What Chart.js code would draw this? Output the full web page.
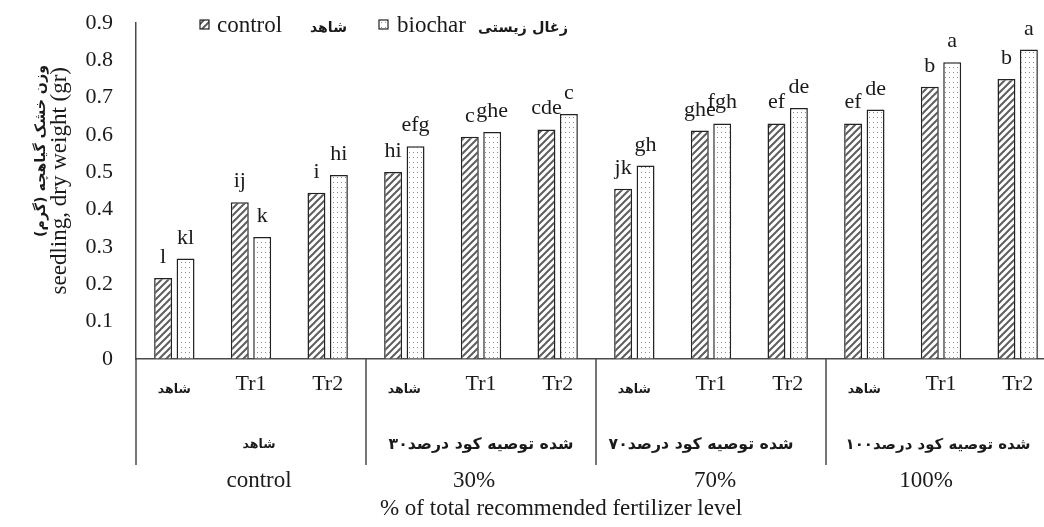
<!DOCTYPE html>
<html>
<head>
<meta charset="utf-8">
<script src="https://cdn.jsdelivr.net/npm/chart.js@4/dist/chart.umd.min.js"></script>
<style>
  html, body { margin: 0; padding: 0; background: #fff; overflow: hidden; }
  #wrap { width: 1060px; height: 527px; }
</style>
</head>
<body>
<div id="wrap"><canvas id="c" width="1060" height="527"></canvas></div>
<script>
// ---- data ----
const categories = ['شاهد', 'Tr1', 'Tr2', 'شاهد', 'Tr1', 'Tr2', 'شاهد', 'Tr1', 'Tr2', 'شاهد', 'Tr1', 'Tr2'];
const groupsFa = ['شاهد', '۳۰درصد کود توصیه شده', '۷۰درصد کود توصیه شده', '۱۰۰درصد کود توصیه شده'];
const groupsEn = ['control', '30%', '70%', '100%'];
const seriesEn = ['control', 'biochar'];
const seriesFa = ['شاهد', 'زغال زیستی'];
const controlValues = [0.217, 0.420, 0.445, 0.501, 0.595, 0.615, 0.456, 0.612, 0.631, 0.631, 0.729, 0.750];
const biocharValues = [0.269, 0.327, 0.493, 0.570, 0.608, 0.656, 0.518, 0.631, 0.672, 0.668, 0.795, 0.829];
const controlLetters = ['l', 'ij', 'i', 'hi', 'c', 'cde', 'jk', 'ghe', 'ef', 'ef', 'b', 'b'];
const biocharLetters = ['kl', 'k', 'hi', 'efg', 'ghe', 'c', 'gh', 'fgh', 'de', 'de', 'a', 'a'];
const yTicks = [0, 0.1, 0.2, 0.3, 0.4, 0.5, 0.6, 0.7, 0.8, 0.9];
const yTitleEn = 'seedling, dry weight (gr)';
const yTitleFa = 'وزن خشک گیاهچه (گرم)';
const xTitle = '% of total recommended fertilizer level';

// ---- styles ----
const SERIF = '"Liberation Serif", "Times New Roman", serif';
const FA = '"DejaVu Sans", sans-serif';
const TXT = '#1a1a1a';
const AXIS = '#4a4a4a';

function hatchPattern() {
  const c = document.createElement('canvas'); c.width = 7; c.height = 7;
  const g = c.getContext('2d');
  g.fillStyle = '#fff'; g.fillRect(0, 0, 7, 7);
  g.strokeStyle = '#5e5e5e'; g.lineWidth = 2; g.lineCap = 'square';
  g.beginPath();
  g.moveTo(-1, 8); g.lineTo(8, -1);
  g.moveTo(-2, 2); g.lineTo(2, -2);
  g.moveTo(5, 9); g.lineTo(9, 5);
  g.stroke();
  return g.createPattern(c, 'repeat');
}
function dotPattern() {
  const c = document.createElement('canvas'); c.width = 4; c.height = 5;
  const g = c.getContext('2d');
  g.fillStyle = '#fff'; g.fillRect(0, 0, 4, 5);
  g.fillStyle = '#8c8c8c'; g.fillRect(1, 2, 1, 1);
  return g.createPattern(c, 'repeat');
}
const HATCH = hatchPattern();
const DOTS = dotPattern();

function setFa(ctx, size) { ctx.font = 'bold ' + size.toFixed(2) + 'px ' + FA; }
function fitSize(ctx, text, target) {
  setFa(ctx, 20);
  return 20 * target / ctx.measureText(text).width;
}
// draw a Persian phrase word by word in left-to-right order (as shown in the reference)
function drawLtrWords(ctx, phrase, cx, y, target) {
  const tokens = [];
  phrase.split(' ').forEach((w, wi) => {
    const m = w.match(/^([\u06F0-\u06F9]+)(.*)$/);
    if (m) { tokens.push({ t: m[1], sp: wi > 0 }); if (m[2]) tokens.push({ t: m[2], sp: false }); }
    else tokens.push({ t: w, sp: wi > 0 });
  });
  const size = fitSize(ctx, phrase, target);
  setFa(ctx, size);
  const space = ctx.measureText(' ').width;
  let total = 0;
  tokens.forEach(tk => { tk.w = ctx.measureText(tk.t).width; total += tk.w + (tk.sp ? space : 0); });
  let x = cx - total / 2;
  ctx.save();
  ctx.textAlign = 'left';
  tokens.forEach(tk => {
    if (tk.sp) x += space;
    ctx.fillText(tk.t, x, y);
    x += tk.w;
  });
  ctx.restore();
}

const decor = {
  id: 'decor',
  afterDatasetsDraw(chart) {
    const ctx = chart.ctx;
    ctx.save();
    ctx.fillStyle = TXT;
    ctx.textAlign = 'center';
    ctx.textBaseline = 'alphabetic';
    ctx.font = '22px ' + SERIF;
    const letters = [controlLetters, biocharLetters];
    chart.data.datasets.forEach((ds, di) => {
      chart.getDatasetMeta(di).data.forEach((bar, i) => {
        ctx.fillText(letters[di][i], bar.x, bar.y - 15);
      });
    });
    ctx.restore();
  },
  afterDraw(chart) {
    const ctx = chart.ctx;
    const xs = chart.scales.x;
    const area = chart.chartArea;
    ctx.save();
    // axis extension and group dividers
    ctx.strokeStyle = AXIS; ctx.lineWidth = 1.5;
    ctx.beginPath();
    ctx.moveTo(area.left, area.bottom); ctx.lineTo(area.left, 465);
    for (let g = 1; g < groupsEn.length; g++) {
      const bx = (xs.getPixelForValue(g * 3 - 1) + xs.getPixelForValue(g * 3)) / 2;
      ctx.moveTo(bx, area.bottom); ctx.lineTo(bx, 465);
    }
    ctx.stroke();

    ctx.fillStyle = TXT;
    ctx.textBaseline = 'middle';
    ctx.textAlign = 'center';
    // row 1: category labels
    categories.forEach((lab, i) => {
      const x = xs.getPixelForValue(i);
      if (/[A-Za-z]/.test(lab)) {
        ctx.font = '22px ' + SERIF;
        ctx.fillText(lab, x, 384);
      } else {
        setFa(ctx, fitSize(ctx, lab, 33));
        ctx.fillText(lab, x, 390);
      }
    });
    // row 2 and row 3: group labels
    const dx2 = [8, 0, -10, -3];
    const dx3 = [8, -7, 4, -15];
    groupsEn.forEach((lab, g) => {
      const cx = (xs.getPixelForValue(g * 3) + xs.getPixelForValue(g * 3 + 2)) / 2;
      drawLtrWords(ctx, groupsFa[g], cx + dx2[g], 445, g === 0 ? 33 : 185);
      ctx.font = '23px ' + SERIF;
      ctx.fillText(lab, cx + dx3[g], 481);
    });
    // x title
    ctx.font = '23px ' + SERIF;
    ctx.fillText(xTitle, 561, 509);

    // y titles (rotated)
    ctx.save();
    ctx.translate(60, 67);
    ctx.rotate(-Math.PI / 2);
    ctx.textAlign = 'right';
    ctx.font = '23px ' + SERIF;
    ctx.fillText(yTitleEn, 0, 0);
    ctx.restore();
    ctx.save();
    ctx.translate(41, 65);
    ctx.rotate(-Math.PI / 2);
    ctx.textAlign = 'right';
    setFa(ctx, fitSize(ctx, yTitleFa, 172));
    ctx.fillText(yTitleFa, 0, 0);
    ctx.restore();

    // legend
    const boxes = [{ x: 200, fill: HATCH }, { x: 379, fill: DOTS }];
    const enX = [217, 397];
    const faX = [310, 478];
    const faW = [37, 90];
    boxes.forEach((b, i) => {
      ctx.fillStyle = b.fill;
      ctx.fillRect(b.x, 20, 9, 9);
      ctx.strokeStyle = '#222'; ctx.lineWidth = 1.2;
      ctx.strokeRect(b.x, 20, 9, 9);
      ctx.fillStyle = TXT;
      ctx.textAlign = 'left';
      ctx.font = '23px ' + SERIF;
      ctx.fillText(seriesEn[i], enX[i], 26);
      setFa(ctx, fitSize(ctx, seriesFa[i], faW[i]));
      ctx.fillText(seriesFa[i], faX[i], 28);
    });
    ctx.restore();
  }
};

new Chart(document.getElementById('c'), {
  type: 'bar',
  data: {
    labels: categories,
    datasets: [
      { label: seriesEn[0] + ' ' + seriesFa[0], data: controlValues, backgroundColor: HATCH, borderColor: '#222', borderWidth: 1.5 },
      { label: seriesEn[1] + ' ' + seriesFa[1], data: biocharValues, backgroundColor: DOTS, borderColor: '#222', borderWidth: 1.5 }
    ]
  },
  options: {
    responsive: false,
    animation: false,
    devicePixelRatio: 1,
    layout: { padding: { top: 23, right: 4, bottom: 0, left: 0 } },
    datasets: { bar: { categoryPercentage: 0.585, barPercentage: 0.8 } },
    plugins: { legend: { display: false }, tooltip: { enabled: false } },
    scales: {
      x: {
        grid: { display: false, drawTicks: false },
        border: { display: true, color: AXIS, width: 1.5 },
        ticks: { display: false },
        afterFit: s => { s.height = 168; }
      },
      y: {
        min: 0, max: 0.9,
        grid: { display: true, drawOnChartArea: false, drawTicks: true, tickLength: 23, color: 'rgba(0,0,0,0)', tickColor: 'rgba(0,0,0,0)' },
        border: { display: true, color: AXIS, width: 1.5 },
        afterBuildTicks: s => { s.ticks = yTicks.map(v => ({ value: v })); },
        ticks: {
          padding: 0,
          color: TXT,
          font: { family: SERIF, size: 22 },
          callback: v => String(+v.toFixed(1))
        },
        afterFit: s => { s.width = 136; }
      }
    }
  },
  plugins: [decor]
});
</script>
</body>
</html>
